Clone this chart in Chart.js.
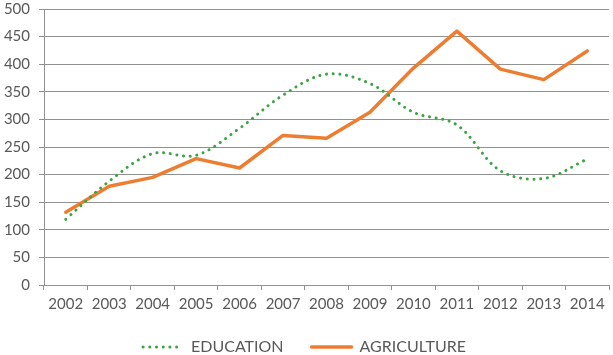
<!DOCTYPE html>
<html>
<head>
<meta charset="utf-8">
<script src="https://cdn.jsdelivr.net/npm/chart.js@4"></script>
<style>
html,body{margin:0;padding:0;background:#fff;}
#wrap{width:613px;height:355px;}
</style>
</head>
<body>
<div id="wrap"><canvas id="c" width="613" height="355"></canvas></div>
<script>
const years = ['2002','2003','2004','2005','2006','2007','2008','2009','2010','2011','2012','2013','2014'];
const education = [119, 188, 238, 235, 284, 344, 382, 365, 313, 290, 207, 193, 228];
const agriculture = [132, 179, 195, 229, 212, 271, 266, 313, 393, 460, 391, 372, 424];
const yTicks = [0, 50, 100, 150, 200, 250, 300, 350, 400, 450, 500];

const FONT = 'Lato, "Liberation Sans", sans-serif';
const TEXT = '#595959';
const GRID = '#919191';
const LEGEND_HEIGHT = 44;

const legendSizePlugin = {
  id: 'legendSize',
  beforeLayout(chart) {
    const lg = chart.legend;
    if (lg && !lg._patched) {
      const orig = lg.fit.bind(lg);
      lg.fit = function () { orig(); this.height = LEGEND_HEIGHT; };
      lg._patched = true;
    }
  }
};

new Chart(document.getElementById('c'), {
  type: 'line',
  data: {
    labels: years,
    datasets: [
      {
        label: 'EDUCATION',
        data: education,
        borderColor: '#3ca445',
        backgroundColor: '#3ca445',
        borderWidth: 3,
        borderDash: [0.1, 6.6],
        borderCapStyle: 'round',
        tension: 0.35,
        pointRadius: 0,
        pointStyle: 'line',
        fill: false
      },
      {
        label: 'AGRICULTURE',
        data: agriculture,
        borderColor: '#ed7d31',
        backgroundColor: '#ed7d31',
        borderWidth: 3.5,
        borderJoinStyle: 'round',
        borderCapStyle: 'round',
        tension: 0,
        pointRadius: 0,
        pointStyle: 'line',
        fill: false
      }
    ]
  },
  plugins: [legendSizePlugin],
  options: {
    responsive: false,
    animation: false,
    layout: { padding: { left: 0, right: 4, top: 9, bottom: 0 } },
    plugins: {
      tooltip: { enabled: false },
      legend: {
        position: 'bottom',
        labels: {
          usePointStyle: true,
          pointStyleWidth: 40,
          boxHeight: 4,
          padding: 28,
          color: TEXT,
          font: { family: FONT, size: 16 },
          generateLabels(chart) {
            const items = Chart.defaults.plugins.legend.labels.generateLabels(chart);
            items.forEach((it) => {
              const ds = chart.data.datasets[it.datasetIndex];
              it.lineDash = ds.borderDash || [];
              it.lineCap = ds.borderCapStyle || 'butt';
              it.lineWidth = ds.borderWidth;
              it.strokeStyle = ds.borderColor;
              it.fillStyle = ds.borderColor;
            });
            return items;
          }
        }
      }
    },
    scales: {
      x: {
        offset: true,
        afterFit: (axis) => { axis.height = 26; },
        grid: {
          offset: true,
          drawOnChartArea: false,
          drawTicks: true,
          tickLength: 5,
          color: GRID
        },
        border: { color: GRID, width: 1 },
        ticks: {
          color: TEXT,
          font: { family: FONT, size: 15 },
          padding: 5,
          maxRotation: 0,
          autoSkip: false
        }
      },
      y: {
        min: 0,
        max: 500,
        afterBuildTicks: (axis) => { axis.ticks = yTicks.map(v => ({ value: v })); },
        afterFit: (axis) => { axis.width = 44; axis.paddingTop = 0; axis.paddingBottom = 0; },
        grid: {
          color: GRID,
          drawTicks: true,
          tickLength: 5
        },
        border: { color: GRID, width: 1 },
        ticks: {
          color: TEXT,
          font: { family: FONT, size: 15 },
          padding: 9
        }
      }
    }
  }
});
</script>
</body>
</html>
